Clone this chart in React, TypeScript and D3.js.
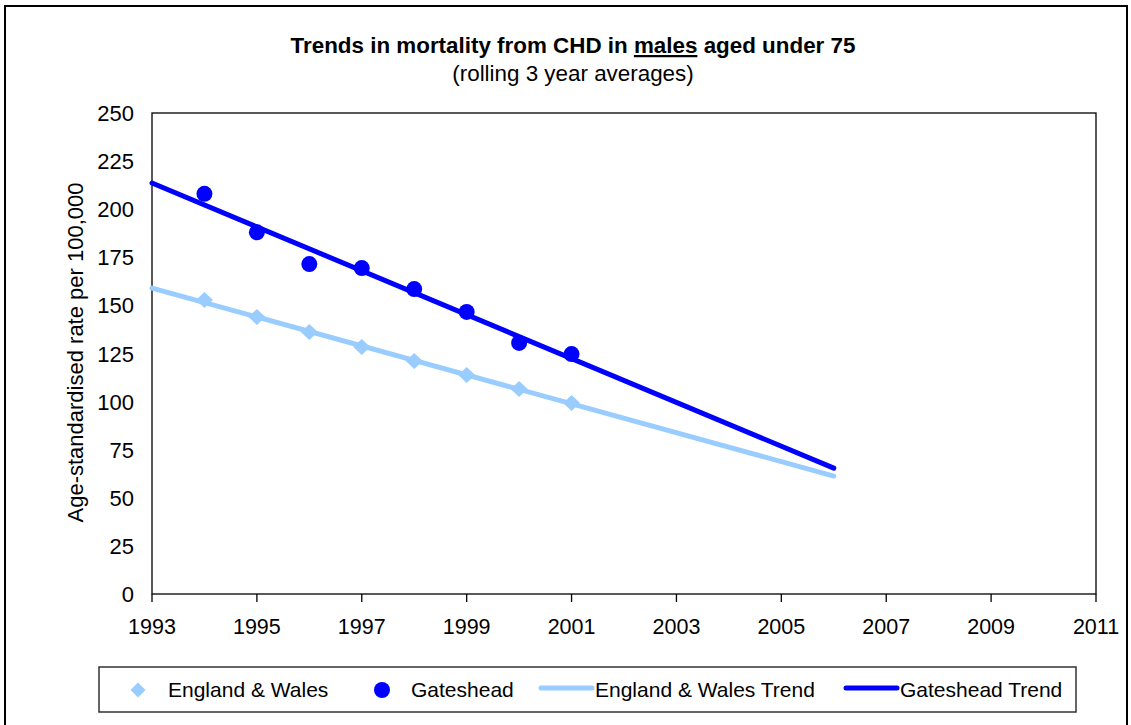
import React from "react";
import * as d3 from "d3";

const years = [1994, 1995, 1996, 1997, 1998, 1999, 2000, 2001];
const englandWales = [152.8, 144, 136.2, 128.4, 121.1, 113.8, 106.5, 99.3];
const gateshead = [208, 188, 171.5, 169.4, 158.5, 146.6, 130.5, 124.7];
const trendYears = [1993, 2006];
const ewTrend = [159, 61.3];
const gTrend = [213.6, 65.4];
const xTicks = [1993, 1995, 1997, 1999, 2001, 2003, 2005, 2007, 2009, 2011];
const yTicks = [0, 25, 50, 75, 100, 125, 150, 175, 200, 225, 250];

const EW = "#99CCFF";
const GH = "#0000FF";
const FONT = "'Liberation Sans', Arial, sans-serif";

export default function App() {
  const W = 1131, H = 725;
  const left = 152, right = 1096, top = 113, bottom = 594;
  const x = d3.scaleLinear().domain([1993, 2011]).range([left, right]);
  const y = d3.scaleLinear().domain([0, 250]).range([bottom, top]);
  const line = d3.line<[number, number]>().x(d => x(d[0])).y(d => y(d[1]));
  const diamond = (cx: number, cy: number, rx: number, ry: number) =>
    `M${cx},${cy - ry}L${cx + rx},${cy}L${cx},${cy + ry}L${cx - rx},${cy}Z`;

  return (
    <svg width={W} height={H} style={{ position: "absolute", left: 0, top: 0, fontFamily: FONT }}>
      <rect x={0} y={0} width={W} height={H} fill="#fff" />
      <rect x={5} y={6} width={1122} height={730} fill="none" stroke="#000" strokeWidth={2} />
      <text x={573} y={53} textAnchor="middle" fontSize={22.4} fontWeight="bold">
        Trends in mortality from CHD in <tspan textDecoration="underline">males</tspan> aged under 75
      </text>
      <text x={573} y={81} textAnchor="middle" fontSize={22.4}>(rolling 3 year averages)</text>

      <rect x={left} y={top} width={right - left} height={bottom - top} fill="none" stroke="#000" strokeWidth={1.3} />
      {xTicks.map(t => (
        <g key={t}>
          <line x1={x(t)} x2={x(t)} y1={bottom} y2={bottom + 8} stroke="#000" strokeWidth={1.3} />
          <text x={x(t)} y={634} textAnchor="middle" fontSize={21.5}>{t}</text>
        </g>
      ))}
      {yTicks.map(t => (
        <text key={t} x={134} y={y(t) + 8} textAnchor="end" fontSize={22}>{t}</text>
      ))}
      <text transform={`translate(83,${(183 + 522) / 2}) rotate(-90)`} textAnchor="middle" fontSize={22}>
        Age-standardised rate per 100,000
      </text>

      <path d={line(trendYears.map((t, i) => [t, ewTrend[i]]) as [number, number][]) || ""} stroke={EW} strokeWidth={5} fill="none" strokeLinecap="round" />
      <path d={line(trendYears.map((t, i) => [t, gTrend[i]]) as [number, number][]) || ""} stroke={GH} strokeWidth={5} fill="none" strokeLinecap="round" />
      {years.map((t, i) => (
        <path key={"e" + t} d={diamond(x(t), y(englandWales[i]), 8.5, 8)} fill={EW} />
      ))}
      {years.map((t, i) => (
        <circle key={"g" + t} cx={x(t)} cy={y(gateshead[i])} r={8} fill={GH} />
      ))}

      <rect x={99} y={667} width={977} height={45} fill="#fff" stroke="#333" strokeWidth={1.5} />
      <path d={diamond(138, 690, 7.5, 7.5)} fill={EW} />
      <text x={168} y={697} fontSize={21}>England &amp; Wales</text>
      <circle cx={382} cy={690} r={8} fill={GH} />
      <text x={411} y={697} fontSize={21}>Gateshead</text>
      <line x1={541} x2={592} y1={688} y2={688} stroke={EW} strokeWidth={5} strokeLinecap="round" />
      <text x={595} y={697} fontSize={21}>England &amp; Wales Trend</text>
      <line x1={846} x2={897} y1={688} y2={688} stroke={GH} strokeWidth={5} strokeLinecap="round" />
      <text x={900} y={697} fontSize={21}>Gateshead Trend</text>
    </svg>
  );
}
